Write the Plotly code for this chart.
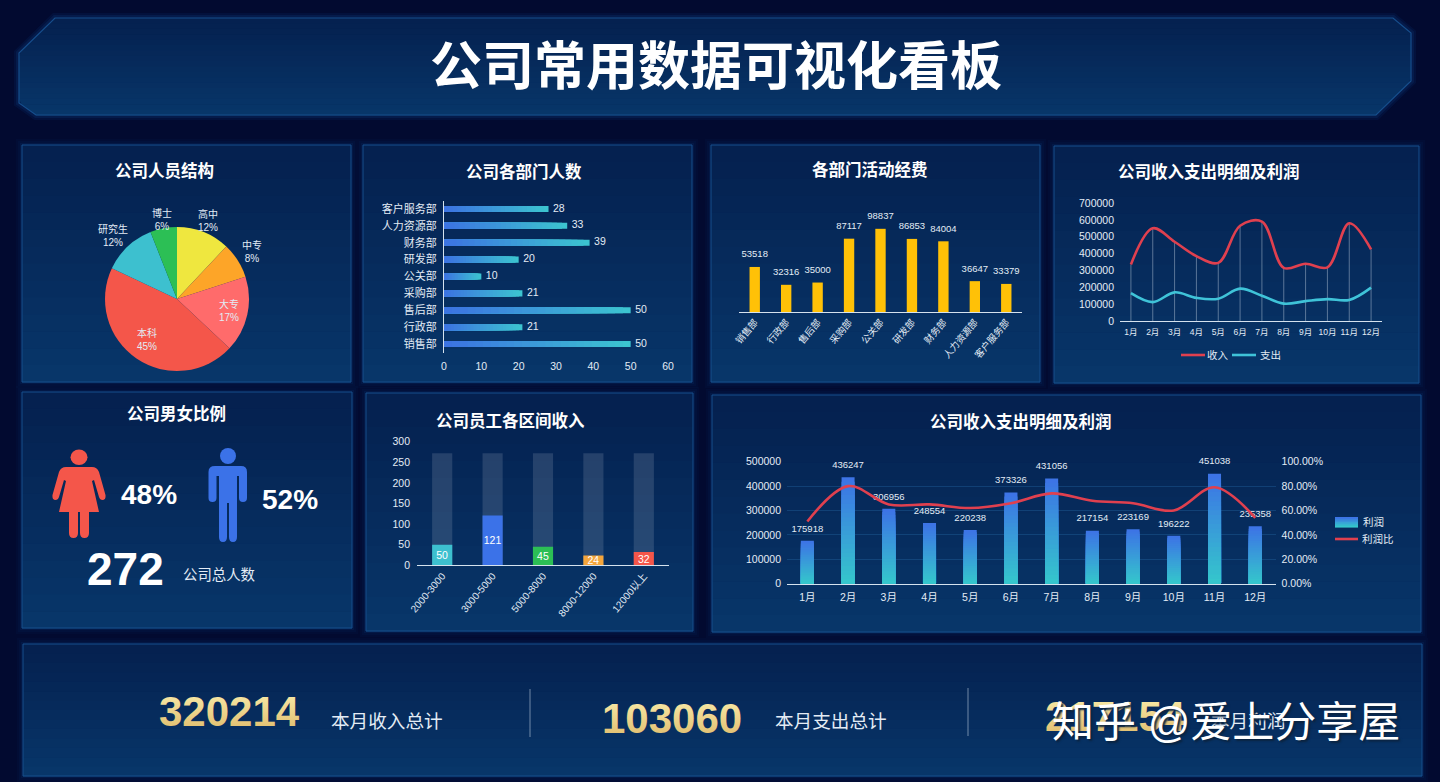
#!/usr/bin/env python
# -*- coding: utf-8 -*-

import numpy as np
import plotly.graph_objects as go

W = 1440
H = 782
FONT = "Liberation Sans, Noto Sans CJK SC"
TXT = "#E3ECF5"

MONTHS = ["1月", "2月", "3月", "4月", "5月", "6月", "7月", "8月", "9月", "10月", "11月", "12月"]

EDU_LABELS = ["高中", "中专", "大专", "本科", "研究生", "博士"]
EDU_VALUES = [12, 8, 17, 45, 12, 6]
EDU_COLORS = ["#EFE73F", "#FDA528", "#FF6B6B", "#F4564A", "#3DC0CF", "#2CBF55"]

DEPT_NAMES = ["销售部", "行政部", "售后部", "采购部", "公关部", "研发部", "财务部", "人力资源部", "客户服务部"]
DEPT_PEOPLE = [50, 21, 50, 21, 10, 20, 39, 33, 28]
DEPT_BUDGET = [53518, 32316, 35000, 87117, 98837, 86853, 84004, 36647, 33379]

INCOME = [335000, 550000, 470000, 385000, 345000, 565000, 590000, 315000, 340000, 318000, 580000, 425000]
EXPENSE = [165000, 112000, 170000, 137000, 132000, 192000, 150000, 103000, 118000, 130000, 125000, 198000]

SALARY_BANDS = ["2000-3000", "3000-5000", "5000-8000", "8000-12000", "12000以上"]
SALARY_PEOPLE = [50, 121, 45, 24, 32]
SALARY_TOTAL = [272, 272, 272, 272, 272]
SALARY_COLORS = ["#3DC0CF", "#3B72E8", "#2CBF55", "#F5A63C", "#F4564A"]

PROFIT = [175918, 436247, 306956, 248554, 220238, 373326, 431056, 217154, 223169, 196222, 451038, 235358]
PROFIT_RATE = [51, 80, 65, 65, 62, 66, 74, 68, 66, 60, 79, 54]

PANEL_TITLES = ["公司人员结构", "公司各部门人数", "各部门活动经费", "公司收入支出明细及利润",
                "公司男女比例", "公司员工各区间收入", "公司收入支出明细及利润"]
KPI_VALUES = ["320214", "103060", "217154"]
KPI_LABELS = ["本月收入总计", "本月支出总计", "本月利润"]

# layout, in picture pixels
PANELS = [
    (22, 145, 351, 382), (363, 145, 692, 382), (711, 145, 1040, 382), (1054, 146, 1419, 383),
    (22, 392, 352, 628), (366, 393, 693, 631), (712, 395, 1421, 632), (23, 644, 1422, 776),
]
TITLE_POS = [(164, 171), (524, 171), (870, 170), (1209, 171), (176, 413), (510, 420), (1021, 421)]
EDU_POS = [(208, 221), (252, 251), (229, 310), (147, 340), (113, 235), (162, 220)]
KPI_VALUE_POS = [(230, 711), (672, 718), (1115, 716)]
KPI_LABEL_POS = [(387, 721), (831, 721), (1248, 721)]


def px(x):
    return x / W


def py(y):
    return 1 - y / H


def mix(c0, c1, t):
    return "rgb(%d,%d,%d)" % tuple(a + (b - a) * t for a, b in zip(c0, c1))


def path_from(cmds):
    # commands in picture pixels -> paper coordinates
    out = []
    for cmd in cmds:
        nums = cmd[1:]
        pairs = ["%.5f,%.5f" % (px(nums[i]), py(nums[i + 1])) for i in range(0, len(nums), 2)]
        out.append(cmd[0] + " " + " ".join(pairs))
    return " ".join(out) + " Z"


def band_shapes(left, right, y0, y1, n, top=(5, 33, 80), bottom=(8, 54, 105)):
    res = []
    edges = np.linspace(y0, y1, n + 1)
    ly, lx = zip(*left)
    ry, rx = zip(*right)
    for i in range(n):
        a, b = edges[i], edges[i + 1] + 0.6
        pts = [("M", np.interp(a, ly, lx), a), ("L", np.interp(a, ry, rx), a),
               ("L", np.interp(b, ry, rx), b), ("L", np.interp(b, ly, lx), b)]
        res.append(dict(type="path", xref="paper", yref="paper", layer="below",
                        path=path_from(pts),
                        fillcolor=mix(top, bottom, i / (n - 1)), line=dict(width=0)))
    return res


def panel_shapes(x0, y0, x1, y1):
    res = []
    for grow, alpha in ((6, 0.04), (4, 0.06), (2, 0.10)):
        res.append(dict(type="rect", xref="paper", yref="paper", layer="below",
                        x0=px(x0 - grow), x1=px(x1 + grow), y0=py(y0 - grow), y1=py(y1 + grow),
                        fillcolor="rgba(20,90,170,%.2f)" % alpha, line=dict(width=0)))
    res += band_shapes([(y0, x0), (y1, x0)], [(y0, x1), (y1, x1)], y0, y1, 14)
    res.append(dict(type="rect", xref="paper", yref="paper", layer="below",
                    x0=px(x0), x1=px(x1), y0=py(y0), y1=py(y1),
                    fillcolor="rgba(0,0,0,0)", line=dict(color="#164E8C", width=1)))
    return res


def gradient_bars(fig, cats, values, xa, ya, c0, c1, width, horizontal=False, n=24):
    # stacked longest first so no seams show between the steps
    values = np.array(values, dtype=float)
    for i in range(n, 0, -1):
        seg = values * i / n
        kw = dict(orientation="h", y=cats, x=seg) if horizontal else dict(x=cats, y=seg)
        fig.add_trace(go.Bar(width=width, xaxis=xa, yaxis=ya,
                             marker=dict(color=mix(c0, c1, (i - 1) / (n - 1)), line=dict(width=0)),
                             showlegend=False, hoverinfo="skip", **kw))


def axis_common(**kw):
    d = dict(showgrid=False, zeroline=False, ticks="", tickfont=dict(size=10.5, color=TXT, family=FONT))
    d.update(kw)
    return d


fig = go.Figure()

# pie, people structure
fig.add_trace(go.Pie(
    labels=EDU_LABELS, values=EDU_VALUES, sort=False, direction="clockwise", rotation=0,
    marker=dict(colors=EDU_COLORS), textinfo="none",
    domain=dict(x=[px(105), px(249)], y=[py(371), py(227)]), showlegend=False, hoverinfo="skip",
))

# department people
BLUE = (60, 116, 226)
TEAL = (60, 196, 208)
gradient_bars(fig, DEPT_NAMES, DEPT_PEOPLE, "x", "y", BLUE, TEAL, 0.36, horizontal=True)
fig.add_trace(go.Scatter(x=[v + 1.2 for v in DEPT_PEOPLE], y=DEPT_NAMES, mode="text",
                         text=[str(v) for v in DEPT_PEOPLE], textposition="middle right",
                         textfont=dict(size=10.5, color=TXT), xaxis="x", yaxis="y",
                         showlegend=False, hoverinfo="skip", cliponaxis=False))

# department budget
fig.add_trace(go.Bar(x=DEPT_NAMES, y=DEPT_BUDGET, width=0.33, xaxis="x2", yaxis="y2",
                     marker=dict(color="#FFC107", line=dict(width=0)), showlegend=False, hoverinfo="skip"))
fig.add_trace(go.Scatter(x=DEPT_NAMES, y=[v + 8500 for v in DEPT_BUDGET], mode="text",
                         text=[str(v) for v in DEPT_BUDGET], textposition="top center",
                         textfont=dict(size=9.5, color=TXT), xaxis="x2", yaxis="y2",
                         showlegend=False, hoverinfo="skip", cliponaxis=False))

# income and expense lines
fig.add_trace(go.Scatter(x=MONTHS, y=INCOME, mode="lines", name="收入", xaxis="x3", yaxis="y3",
                         line=dict(color="#E0404F", width=2.6, shape="spline", smoothing=1.0),
                         error_y=dict(type="data", symmetric=False, array=[0] * 12, arrayminus=INCOME,
                                      thickness=0.6, width=0, color="rgba(225,235,245,0.65)"),
                         showlegend=False, hoverinfo="skip"))
fig.add_trace(go.Scatter(x=MONTHS, y=EXPENSE, mode="lines", name="支出", xaxis="x3", yaxis="y3",
                         line=dict(color="#3FC3D8", width=2.6, shape="spline", smoothing=1.0),
                         showlegend=False, hoverinfo="skip"))

# salary bands
fig.add_trace(go.Bar(x=SALARY_BANDS, y=SALARY_TOTAL, width=0.4, xaxis="x4", yaxis="y4",
                     marker=dict(color="rgba(255,255,255,0.13)", line=dict(width=0)),
                     showlegend=False, hoverinfo="skip"))
fig.add_trace(go.Bar(x=SALARY_BANDS, y=SALARY_PEOPLE, width=0.4, xaxis="x4", yaxis="y4",
                     marker=dict(color=SALARY_COLORS, line=dict(width=0)),
                     text=[str(v) for v in SALARY_PEOPLE], textposition="inside", insidetextanchor="middle",
                     textangle=0, textfont=dict(size=10.5, color="#FFFFFF"), constraintext="none",
                     showlegend=False, hoverinfo="skip"))

# profit
gradient_bars(fig, MONTHS, PROFIT, "x5", "y5", (53, 198, 204), (61, 116, 230), 0.32)
fig.add_trace(go.Scatter(x=MONTHS, y=[v + 28000 for v in PROFIT], mode="text",
                         text=[str(v) for v in PROFIT], textposition="top center",
                         textfont=dict(size=9.5, color=TXT), xaxis="x5", yaxis="y5",
                         showlegend=False, hoverinfo="skip", cliponaxis=False))
fig.add_trace(go.Scatter(x=MONTHS, y=PROFIT_RATE, mode="lines", name="利润比", xaxis="x5", yaxis="y6",
                         showlegend=False, hoverinfo="skip",
                         line=dict(color="#E0404F", width=2.6, shape="spline", smoothing=1.0)))

# background, header and panels
shapes = []
HEAD_LEFT = [(18, 55), (53, 19), (103, 19), (115, 36)]
HEAD_RIGHT = [(18, 1393), (33, 1411), (81, 1411), (115, 1376)]
HEAD_OUTLINE = [("M", 55, 18), ("L", 1393, 18), ("L", 1411, 33), ("L", 1411, 81),
                ("L", 1376, 115), ("L", 36, 115), ("L", 19, 103), ("L", 19, 53)]
for grow, alpha in ((5, 0.10), (3, 0.14)):
    shapes.append(dict(type="path", xref="paper", yref="paper", layer="below", path=path_from(HEAD_OUTLINE),
                       fillcolor="rgba(0,0,0,0)", line=dict(color="rgba(20,90,170,%.2f)" % alpha, width=grow * 2)))
shapes += band_shapes(HEAD_LEFT, HEAD_RIGHT, 18, 115, 18)
shapes.append(dict(type="path", xref="paper", yref="paper", layer="below", path=path_from(HEAD_OUTLINE),
                   fillcolor="rgba(0,0,0,0)", line=dict(color="#164E8C", width=1.2)))
for p in PANELS:
    shapes += panel_shapes(*p)

# separators in the bottom row
for sx, sy0, sy1 in ((530, 689, 737), (968, 688, 736)):
    shapes.append(dict(type="line", xref="paper", yref="paper", x0=px(sx), x1=px(sx), y0=py(sy0), y1=py(sy1),
                       line=dict(color="rgba(200,215,230,0.55)", width=1)))

# woman and man icons
WOMAN = [("M", 66, 467), ("L", 92, 467), ("Q", 97, 467, 99, 472), ("L", 105.5, 495), ("Q", 106, 500, 102.5, 500),
         ("Q", 100, 500, 99, 497), ("L", 94, 480), ("L", 92, 481), ("L", 99, 512), ("L", 89, 512), ("L", 89, 533),
         ("Q", 89, 538, 84.5, 538), ("Q", 80, 538, 80, 533), ("L", 80, 512), ("L", 78, 512), ("L", 78, 533),
         ("Q", 78, 538, 73.5, 538), ("Q", 69, 538, 69, 533), ("L", 69, 512), ("L", 59, 512), ("L", 66, 481),
         ("L", 64, 480), ("L", 59, 497), ("Q", 58, 500, 55.5, 500), ("Q", 52, 500, 52.5, 495), ("L", 59, 472),
         ("Q", 61, 467, 66, 467)]
MAN = [("M", 215, 466), ("L", 241, 466), ("Q", 247, 466, 247, 472), ("L", 247, 498), ("Q", 247, 502, 243, 502),
       ("Q", 239, 502, 239, 498), ("L", 239, 476), ("L", 237, 476), ("L", 237, 537), ("Q", 237, 542, 233, 542),
       ("Q", 229, 542, 229, 537), ("L", 229, 503), ("L", 227, 503), ("L", 227, 537), ("Q", 227, 542, 223, 542),
       ("Q", 219, 542, 219, 537), ("L", 219, 476), ("L", 216.5, 476), ("L", 216.5, 498), ("Q", 216.5, 502, 212.5, 502),
       ("Q", 208.5, 502, 208.5, 498), ("L", 208.5, 472), ("Q", 208.5, 466, 215, 466)]
shapes.append(dict(type="path", xref="paper", yref="paper", path=path_from(WOMAN), fillcolor="#F4564A", line=dict(width=0)))
shapes.append(dict(type="circle", xref="paper", yref="paper", x0=px(70.5), x1=px(87.5), y0=py(449.5), y1=py(465),
                   fillcolor="#F4564A", line=dict(width=0)))
shapes.append(dict(type="path", xref="paper", yref="paper", path=path_from(MAN), fillcolor="#3B72E8", line=dict(width=0)))
shapes.append(dict(type="circle", xref="paper", yref="paper", x0=px(220), x1=px(236), y0=py(448), y1=py(464),
                   fillcolor="#3B72E8", line=dict(width=0)))

# legends of the two line charts
shapes += band_shapes([(517, 1335), (527, 1335)], [(517, 1358), (527, 1358)], 517, 527, 6,
                      top=(61, 116, 230), bottom=(53, 198, 204))
for lx0, lx1, ly, color in ((1335, 1358, 539, "#E0404F"), (1181, 1205, 355, "#E0404F"), (1232, 1256, 355, "#3FC3D8")):
    shapes.append(dict(type="line", xref="paper", yref="paper", x0=px(lx0), x1=px(lx1), y0=py(ly), y1=py(ly),
                       line=dict(color=color, width=2.6)))

annotations = []


def note(text, x, y, size, color="#FFFFFF", **kw):
    annotations.append(dict(text=text, x=px(x), y=py(y), xref="paper", yref="paper", showarrow=False,
                            xanchor="center", yanchor="middle", font=dict(size=size, color=color, family=FONT, **kw)))


note("<b>公司常用数据可视化看板</b>", 716, 67, 52)
for title, (tx, ty) in zip(PANEL_TITLES, TITLE_POS):
    note("<b>%s</b>" % title, tx, ty, 16.5)
for label, value, (lx, ly) in zip(EDU_LABELS, EDU_VALUES, EDU_POS):
    note("%s<br>%d%%" % (label, value), lx, ly, 10, color=TXT)
note("<b>48%</b>", 149, 494, 28)
note("<b>52%</b>", 290, 499, 28)
note("<b>272</b>", 125, 569, 46)
note("公司总人数", 219, 575, 14.4, color=TXT)
note("收入", 1218, 355, 10.5, color=TXT)
note("支出", 1270, 355, 10.5, color=TXT)
note("利润", 1373, 522, 10.5, color=TXT)
note("利润比", 1378, 539, 10.5, color=TXT)
for big, (bx, by), small, (lx, ly) in zip(KPI_VALUES, KPI_VALUE_POS, KPI_LABELS, KPI_LABEL_POS):
    note("<b>%s</b>" % big, bx, by, 42, color="#EFD382")
    note(small, lx, ly, 18.6, color=TXT)
note("知乎 @爱上分享屋", 1226, 722, 42, shadow="2px 2px 2px #0B2440")

GRID = "rgba(40,110,170,0.35)"
AXIS = "#D5E2EE"

fig.update_layout(
    width=W, height=H, margin=dict(l=0, r=0, t=0, b=0, autoexpand=False), autosize=False,
    paper_bgcolor="#020A30", plot_bgcolor="rgba(0,0,0,0)", barmode="overlay",
    font=dict(family=FONT, color=TXT), shapes=shapes, annotations=annotations, showlegend=False,
    xaxis=axis_common(domain=[px(444), px(668)], range=[0, 60], dtick=10, anchor="y", ticklabelstandoff=6),
    yaxis=axis_common(domain=[py(352.5), py(200.5)], type="category", categoryorder="array", categoryarray=DEPT_NAMES,
                      anchor="x", showline=True, linecolor=AXIS, linewidth=1, tickfont=dict(size=11, color=TXT),
                      ticklabelstandoff=4),
    xaxis2=axis_common(domain=[px(739), px(1022)], anchor="y2", type="category", categoryorder="array", categoryarray=DEPT_NAMES,
                       showline=True, linecolor=AXIS, linewidth=1, tickangle=-50, tickfont=dict(size=9.5, color=TXT)),
    yaxis2=axis_common(domain=[py(312), py(211)], range=[0, 120000], anchor="x2", visible=False),
    xaxis3=axis_common(domain=[px(1120), px(1382)], anchor="y3", type="category", categoryorder="array", categoryarray=MONTHS,
                       range=[-0.5, 11.5], showline=True, linecolor=AXIS, linewidth=1, tickangle=0,
                       tickfont=dict(size=8.5, color=TXT), ticklabelstandoff=3),
    yaxis3=axis_common(domain=[py(321), py(203)], range=[0, 700000], dtick=100000, anchor="x3", tickformat="d",
                       ticklabelstandoff=5),
    xaxis4=axis_common(domain=[px(417), px(669)], anchor="y4", type="category", categoryorder="array", categoryarray=SALARY_BANDS,
                       showline=True, linecolor=AXIS, linewidth=1, tickangle=-50, tickfont=dict(size=10, color=TXT)),
    yaxis4=axis_common(domain=[py(565.3), py(441.7)], range=[0, 300], dtick=50, anchor="x4", ticklabelstandoff=6),
    xaxis5=axis_common(domain=[px(787), px(1275.6)], anchor="y5", type="category", categoryorder="array", categoryarray=MONTHS,
                       range=[-0.5, 11.5], showline=True, linecolor=AXIS, linewidth=1, tickangle=0, ticklabelstandoff=4),
    yaxis5=axis_common(domain=[py(583.7), py(461.7)], range=[0, 500000], dtick=100000, anchor="x5", tickformat="d",
                       showgrid=True, gridcolor=GRID, gridwidth=1, ticklabelstandoff=5),
    yaxis6=axis_common(domain=[py(583.7), py(461.7)], range=[0, 100], dtick=20, anchor="x5", overlaying="y5", side="right",
                       ticksuffix=".00%", ticklabelstandoff=5),
)

# the page keeps an 8px body margin otherwise, pin the plot to the corner and paint the KPI numbers gold
POST = """
var gd = document.getElementById('{plot_id}');
document.documentElement.style.margin = '0';
document.body.style.margin = '0';
document.body.style.background = '#020A30';
document.body.style.overflow = 'hidden';
gd.style.position = 'fixed';
gd.style.left = '0';
gd.style.top = '0';
function gold() {
    var svg = gd.querySelector('svg.main-svg');
    if (!document.getElementById('goldfill')) {
        var ns = 'http://www.w3.org/2000/svg';
        var g = document.createElementNS(ns, 'linearGradient');
        g.setAttribute('id', 'goldfill');
        g.setAttribute('x1', '0'); g.setAttribute('y1', '0'); g.setAttribute('x2', '0'); g.setAttribute('y2', '1');
        [['0', '#FBEFAE'], ['1', '#DDB868']].forEach(function (s) {
            var st = document.createElementNS(ns, 'stop');
            st.setAttribute('offset', s[0]); st.setAttribute('stop-color', s[1]);
            g.appendChild(st);
        });
        svg.querySelector('defs').appendChild(g);
    }
    gd.querySelectorAll('.annotation-text').forEach(function (t) {
        if (/^\\d{6}$/.test(t.textContent)) { t.style.fill = 'url(#goldfill)'; }
    });
}
gold();
gd.on('plotly_afterplot', gold);
"""

fig.write_html("out.html", post_script=POST, config=dict(displayModeBar=False))
